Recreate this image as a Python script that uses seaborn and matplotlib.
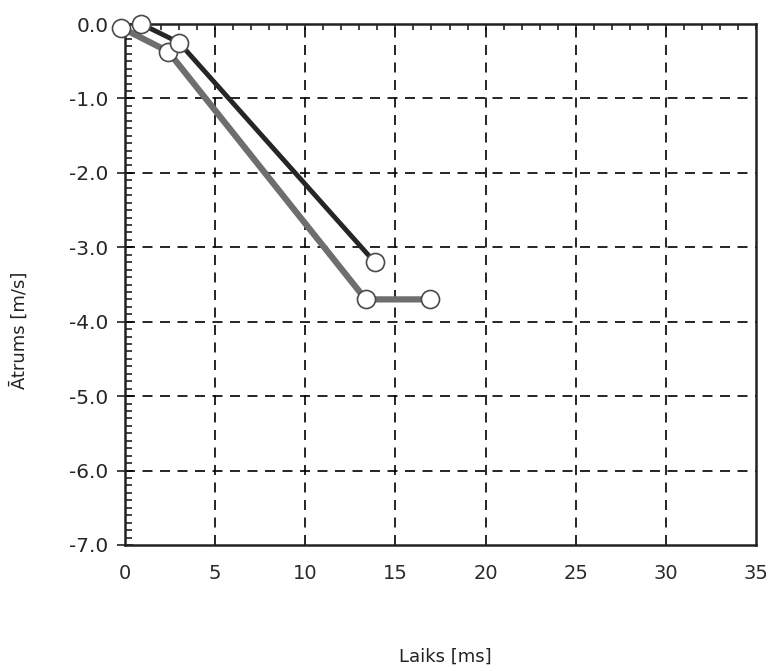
import matplotlib
matplotlib.use("Agg")
import matplotlib.pyplot as plt
from matplotlib.ticker import MultipleLocator, FormatStrFormatter
import seaborn as sns
import pandas as pd

# Velocity over time for two runs
time_dark = [0.9, 3.0, 13.85]
speed_dark = [0.0, -0.25, -3.2]
time_gray = [-0.2, 2.4, 13.35, 16.9]
speed_gray = [-0.05, -0.37, -3.7, -3.7]

x_ticks = [0, 5, 10, 15, 20, 25, 30, 35]
y_ticks = [0.0, -1.0, -2.0, -3.0, -4.0, -5.0, -6.0, -7.0]

sns.set_style("white")
plt.rcParams["font.family"] = ["DejaVu Sans"]

df_dark = pd.DataFrame({"t": time_dark, "v": speed_dark})
df_gray = pd.DataFrame({"t": time_gray, "v": speed_gray})

fig = plt.figure(figsize=(7.73, 6.71), dpi=100)
ax = fig.add_axes([125 / 773, 1 - 545 / 671, 631 / 773, 521 / 671])

ax.set_xlim(0, 35)
ax.set_ylim(-7.0, 0.0)

# dashed grid at the major ticks
for xv in x_ticks[1:-1]:
    ax.axvline(xv, color="black", lw=1.2, ls=(0, (6, 4.5)), zorder=1)
for yv in y_ticks[1:-1]:
    ax.axhline(yv, color="black", lw=1.2, ls=(0, (6, 4.5)), zorder=1)

marker_kw = dict(marker="o", markersize=13, markerfacecolor="white",
                 markeredgecolor="#4a4a4a", markeredgewidth=1.2)

sns.lineplot(data=df_gray, x="t", y="v", sort=False, estimator=None,
             color="#6e6e6e", lw=4.5, ax=ax, zorder=3, clip_on=False, **marker_kw)
sns.lineplot(data=df_dark, x="t", y="v", sort=False, estimator=None,
             color="#262626", lw=3.5, ax=ax, zorder=4, clip_on=False, **marker_kw)

for side in ["left", "right", "top", "bottom"]:
    ax.spines[side].set_visible(True)
    ax.spines[side].set_color("#222222")
    ax.spines[side].set_linewidth(1.8)

ax.set_xticks(x_ticks)
ax.set_yticks(y_ticks)
ax.yaxis.set_major_formatter(FormatStrFormatter("%.1f"))
ax.xaxis.set_minor_locator(MultipleLocator(1))
ax.yaxis.set_minor_locator(MultipleLocator(0.1))

ax.tick_params(axis="x", which="both", bottom=False, top=True, direction="in",
               length=4, width=1.2, color="#222222", labelbottom=True,
               labelsize=14, labelcolor="#2a2a2a", pad=14)
ax.tick_params(axis="y", which="major", left=True, right=False, direction="inout",
               length=12, width=1.2, color="#222222", labelsize=14.5,
               labelcolor="#262626", pad=6)
ax.tick_params(axis="y", which="minor", left=True, right=False, direction="in",
               length=5, width=1.2, color="#222222")

ax.set_xlabel("")
ax.set_ylabel("")
fig.text(445 / 773, 1 - 657 / 671, "Laiks [ms]", ha="center", va="center",
         fontsize=13, color="#222222")
fig.text(20 / 773, 1 - 330 / 671, "Ātrums [m/s]", ha="center", va="center",
         rotation=90, fontsize=13, color="#222222")

fig.savefig("out.png", dpi=100)
